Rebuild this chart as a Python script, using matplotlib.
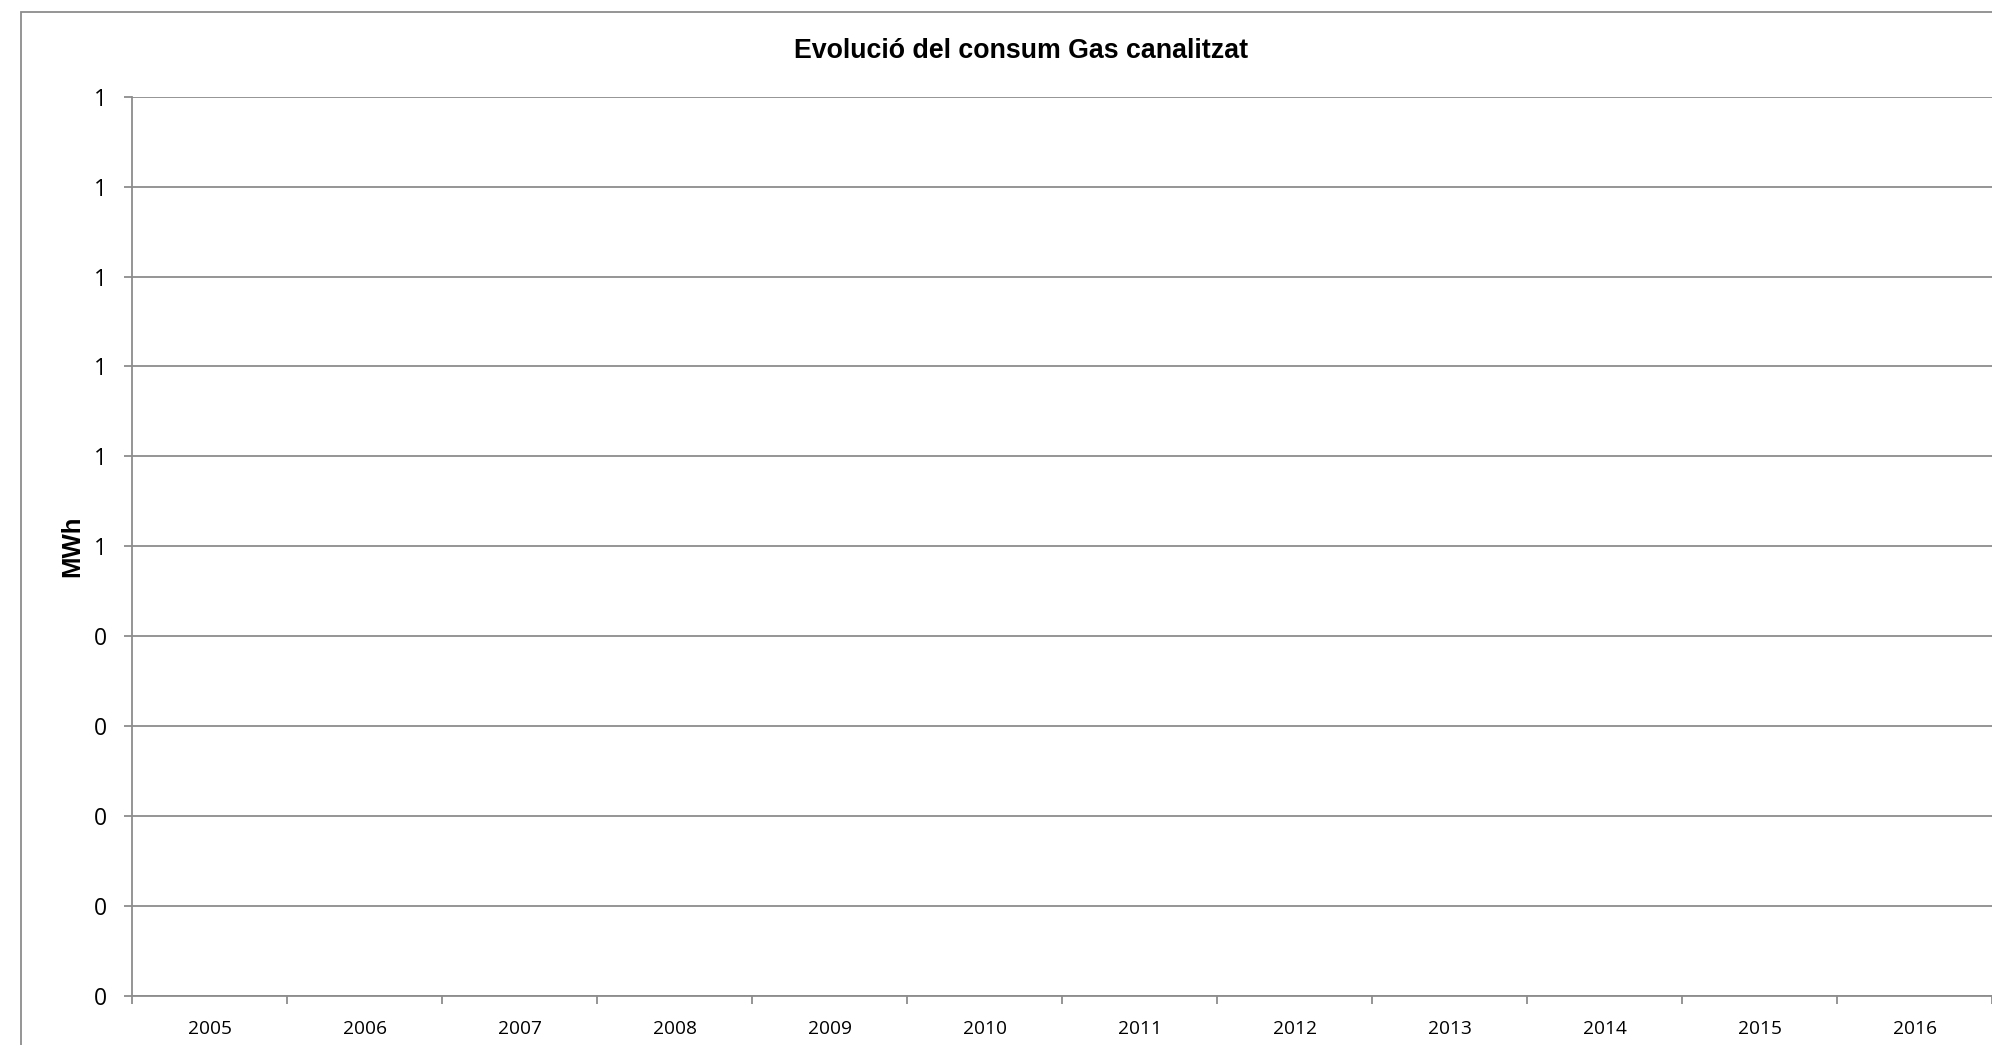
import matplotlib
matplotlib.use("Agg")
import matplotlib.pyplot as plt
from matplotlib.patches import Rectangle
import numpy as np

# Data
years = ["2005", "2006", "2007", "2008", "2009", "2010", "2011", "2012", "2013", "2014", "2015", "2016"]
consum_mwh = [np.nan] * 12  # no data shown in the chart
y_ticks = [0.0, 0.1, 0.2, 0.3, 0.4, 0.5, 0.6, 0.7, 0.8, 0.9, 1.0]
y_tick_labels = ["0", "0", "0", "0", "0", "1", "1", "1", "1", "1", "1"]
title = "Evolució del consum Gas canalitzat"
ylabel = "MWh"

W, H = 1992, 1045
fig = plt.figure(figsize=(W / 100, H / 100), dpi=100)
fig.patch.set_facecolor("white")

# Outer chart border (extends beyond right/bottom edges)
fig.patches.append(Rectangle((20.7 / W, -0.1), 1.2, 1 - 12.3 / H + 0.1,
                             transform=fig.transFigure, fill=False,
                             edgecolor="#8c8c8c", linewidth=1.3))

left, right = 132 / W, 1992.3 / W
top, bottom = 1 - 96.7 / H, 1 - 996 / H
ax = fig.add_axes([left, bottom, right - left, top - bottom])

x = np.arange(len(years))
ax.bar(x, consum_mwh, width=0.6, color="#4f81bd")

ax.set_xlim(-0.5, len(years) - 0.5)
ax.set_ylim(0, 1.0)

grid_col = "#8c8c8c"
ax.set_yticks(y_ticks)
ax.set_yticklabels(y_tick_labels, fontsize=16.5, fontfamily="Open Sans")
ax.yaxis.grid(True, color=grid_col, linewidth=1.3)
ax.set_axisbelow(True)

ax.set_xticks(np.arange(len(years) + 1) - 0.5)
ax.set_xticklabels([])
ax.set_xticks(x, minor=True)
ax.set_xticklabels(years, minor=True, fontsize=13.8, fontfamily="Open Sans")
ax.tick_params(axis="x", which="major", length=5.5, width=1.3, color=grid_col, direction="out")
ax.tick_params(axis="x", which="minor", length=0, pad=17)
ax.tick_params(axis="y", length=6, width=1.3, color=grid_col, pad=12)

for s in ["top", "right"]:
    ax.spines[s].set_visible(False)
for s in ["left", "bottom"]:
    ax.spines[s].set_color(grid_col)
    ax.spines[s].set_linewidth(1.3)

fig.text(1021 / W, 1 - 50.5 / H, title, ha="center", va="center",
         fontsize=19.3, fontweight="bold", fontfamily="Liberation Sans")
fig.text(72 / W, 1 - 546 / H, ylabel, ha="center", va="center", rotation=90,
         fontsize=18.5, fontweight="bold", fontfamily="Liberation Sans")

fig.savefig("out.png", dpi=100, facecolor="white")
